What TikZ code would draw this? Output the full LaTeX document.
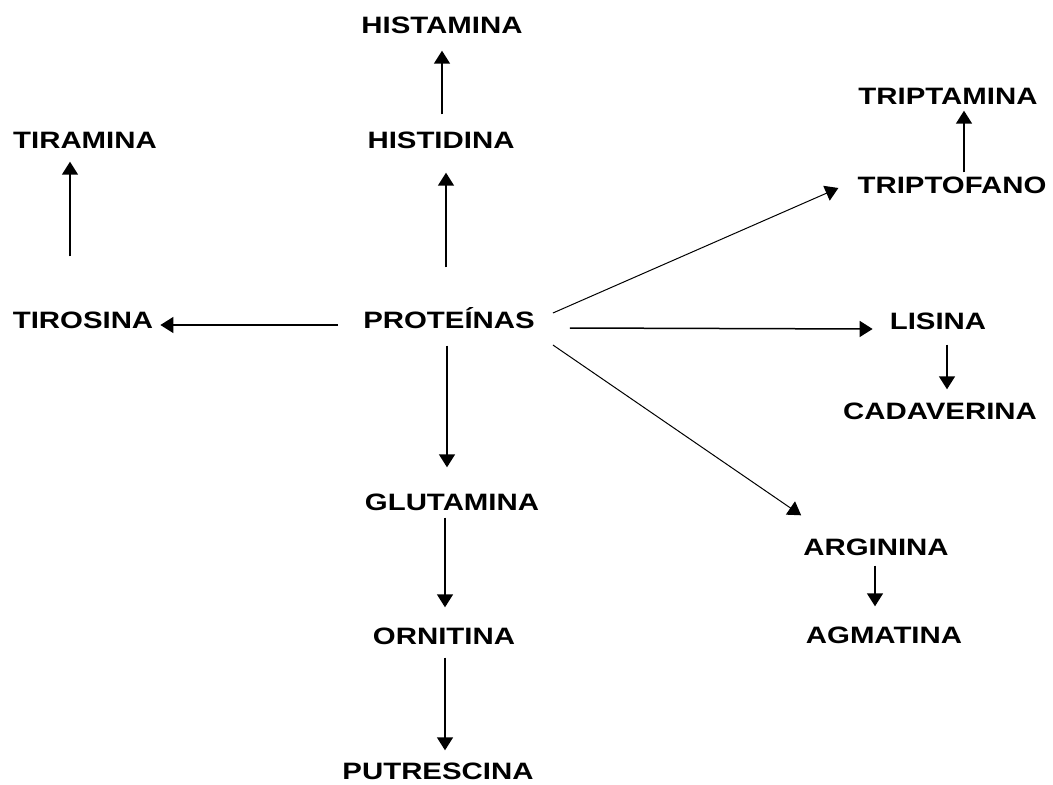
\documentclass[tikz,border=0pt]{standalone}
\usepackage{fontspec}
\newfontfamily\aminofont{Liberation Sans}[FakeStretch=1.24]
\usetikzlibrary{arrows.meta, calc}
\tikzset{
  >={Triangle[length=13pt, width=16pt]},
  amino/.style={
    inner sep=0pt, text height=17pt, text depth=0pt,
    font=\aminofont\bfseries\fontsize{23.7}{28}\selectfont
  },
  pathway/.style={->, line width=1.5pt},
  slant/.style={->, line width=1pt}
}

\begin{document}
\begin{tikzpicture}[x=1pt, y=-1pt]

\useasboundingbox (0,0) rectangle (1053,785);

% Central node
\node[amino] (prot) at (449,320) {PROTEÍNAS};

% Upper branches
\node[amino] (histam) at (442,25)  {HISTAMINA};
\node[amino] (histid) at (441,140) {HISTIDINA};
\node[amino] (tiram)  at (85,140)  {TIRAMINA};
\node[amino] (tiros)  at (83,320)  {TIROSINA};
\node[amino] (tripta) at (948,96)  {TRIPTAMINA};
\node[amino] (tripto) at (952,185) {TRIPTOFANO};

% Right branches
\node[amino] (lis)  at (938,321) {LISINA};
\node[amino] (cad)  at (940,411) {CADAVERINA};
\node[amino] (argi) at (876,547) {ARGININA};
\node[amino] (agma) at (884,635) {AGMATINA};

% Lower chain
\node[amino] (glut) at (452,502) {GLUTAMINA};
\node[amino] (orni) at (444,636) {ORNITINA};
\node[amino] (putr) at (438,771) {PUTRESCINA};

% From proteins
\draw[pathway, shorten <=44pt, shorten >=24pt]
  ([xshift=-3pt]prot.north) -- ([xshift=-3pt]prot.north |- histid.south);
\draw[pathway, shorten <=25pt, shorten >=7pt]
  ([yshift=-5pt]prot.west) -- ([yshift=-5pt]tiros.east);
\draw[slant] ([xshift=18pt, yshift=7pt]prot.east) -- ([xshift=-19pt, yshift=-3pt]tripto.west);
\draw[pathway] ([xshift=35pt, yshift=-8pt]prot.east) -- ([xshift=-17pt, yshift=-8pt]lis.west);
\draw[slant] ([xshift=18pt, yshift=-25pt]prot.east) -- ([xshift=-2pt, yshift=23pt]argi.north west);
\draw[pathway, shorten <=17pt, shorten >=26pt]
  ([xshift=-2pt]prot.south) -- ([xshift=-2pt]prot.south |- glut.north);

% Decarboxylations
\draw[pathway, shorten <=17pt, shorten >=17pt]
  ([xshift=1pt]histid.north) -- ([xshift=1pt]histid.north |- histam.south);
\draw[pathway, shorten <=55pt, shorten >=13pt]
  ([xshift=-13pt]tiros.north) -- ([xshift=-13pt]tiros.north |- tiram.south);
\draw[pathway, shorten <=4pt, shorten >=6pt]
  ([xshift=12pt]tripto.north) -- ([xshift=12pt]tripto.north |- tripta.south);
\draw[pathway, shorten <=15pt, shorten >=13pt]
  ([xshift=9pt]lis.south) -- ([xshift=9pt]lis.south |- cad.north);
\draw[pathway, shorten <=10pt, shorten >=20pt]
  ([xshift=-1pt]argi.south) -- ([xshift=-1pt]argi.south |- agma.north);
\draw[pathway, shorten <=7pt, shorten >=20pt]
  ([xshift=-7pt]glut.south) -- ([xshift=-7pt]glut.south |- orni.north);
\draw[pathway, shorten <=13pt, shorten >=12pt]
  ([xshift=1pt]orni.south) -- ([xshift=1pt]orni.south |- putr.north);

\end{tikzpicture}
\end{document}
